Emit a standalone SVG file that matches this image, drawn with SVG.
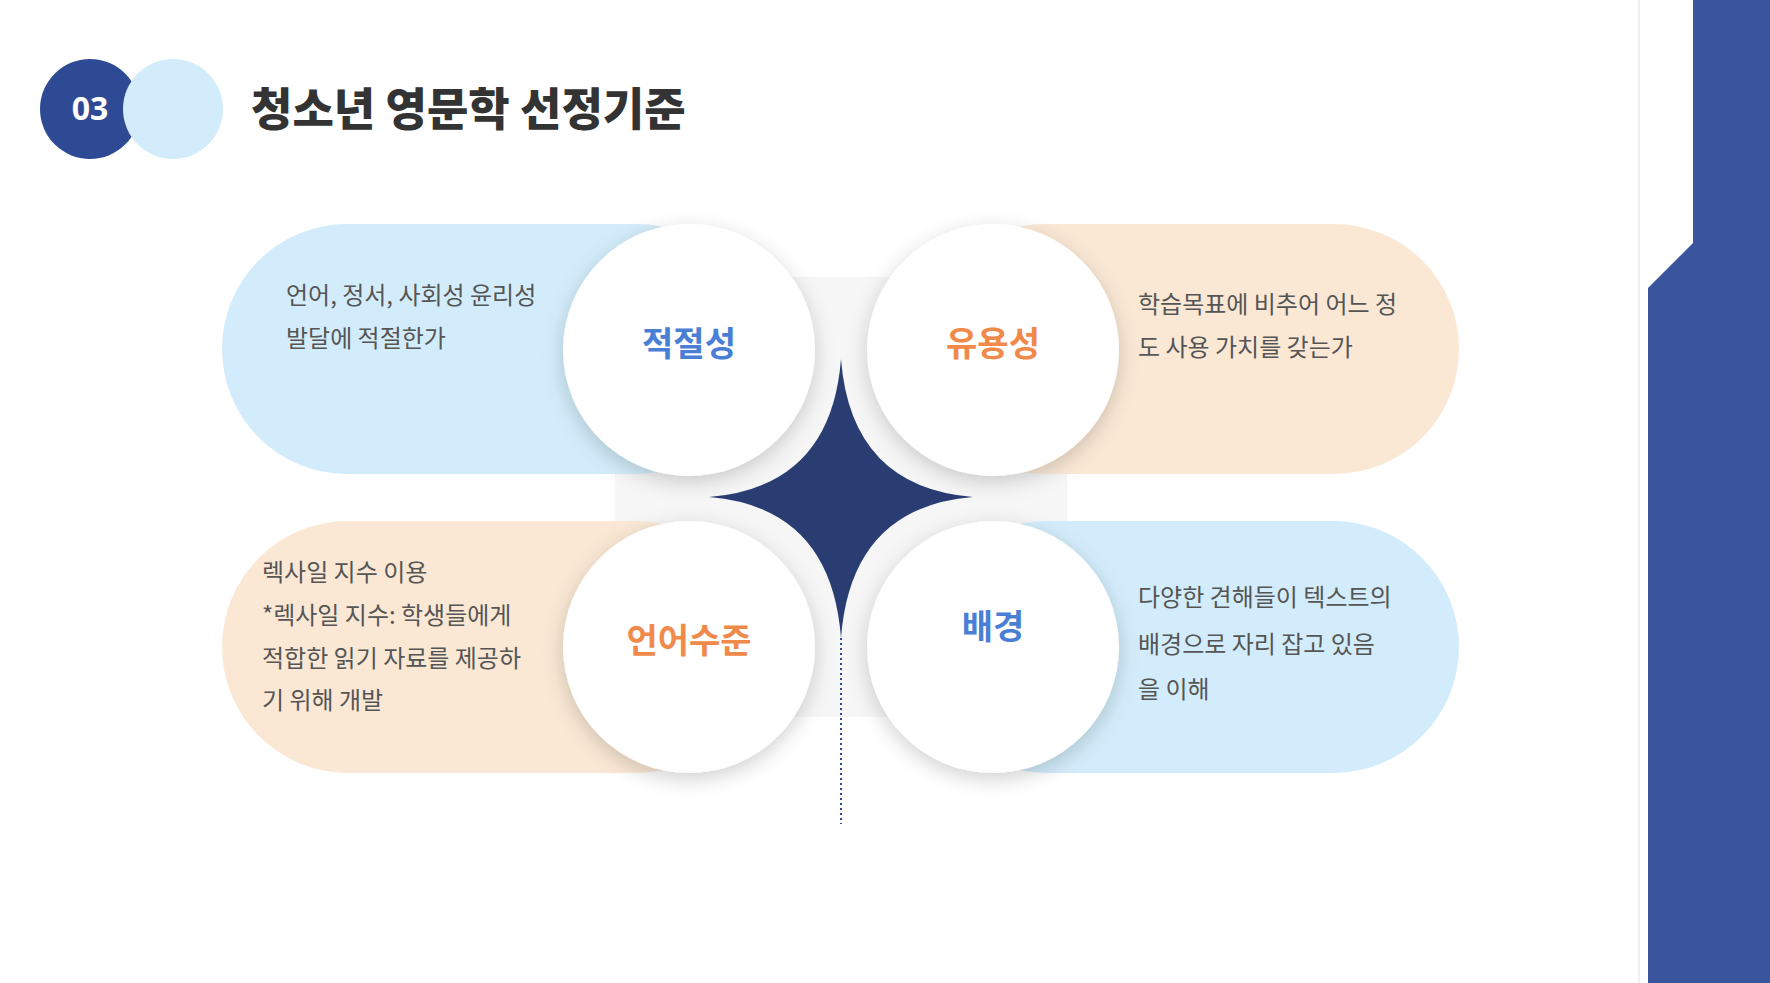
<svg xmlns="http://www.w3.org/2000/svg" width="1770" height="983" viewBox="0 0 1770 983">
<defs>
<filter id="sh" x="-30%" y="-30%" width="160%" height="160%"><feDropShadow dx="0" dy="6" stdDeviation="10" flood-color="#000" flood-opacity="0.18"/></filter>
<style>
.lab{font-family:"Noto Sans CJK KR","Noto Sans",sans-serif;font-weight:700;font-size:34px;text-anchor:middle}
.d{font-family:"Noto Sans CJK KR","Noto Sans",sans-serif;font-size:24px;fill:#555}
.c{fill:#fff;filter:url(#sh)}
</style>
</defs>
<rect width="1770" height="983" fill="#fff"/>
<line x1="1639" y1="0" x2="1639" y2="983" stroke="#f0f0f0" stroke-width="2"/>
<path d="M1693 0H1770V983H1648V288L1693 243Z" fill="#3a559e"/>
<g id="header">
<circle cx="90" cy="109" r="50" fill="#2f4a94"/>
<circle cx="173" cy="109" r="50" fill="#d3ecfb"/>
<text x="90" y="120" font-family="Noto Sans,sans-serif" font-weight="700" font-size="32" fill="#fff" text-anchor="middle">03</text>
<text x="251" y="126" font-family="Noto Sans CJK KR,sans-serif" font-weight="900" font-size="45" fill="#333">청소년 영문학 선정기준</text>
</g>
<rect x="615" y="277" width="452" height="440" fill="#f6f6f6"/>
<g id="connectors">
<line x1="841" y1="638" x2="841" y2="824" stroke="#2f4a94" stroke-width="2" stroke-dasharray="2 3"/>
</g>
<g id="n1"><rect x="222" y="224" width="540" height="250" rx="125" fill="#d3ecfb"/><circle class="c" cx="689" cy="350" r="126"/><text class="lab" x="689" y="356" fill="#4a7fd6">적절성</text>
<text class="d" x="286" y="304">언어, 정서, 사회성 윤리성</text><text class="d" x="286" y="347">발달에 적절한가</text></g>
<g id="n2"><rect x="920" y="224" width="539" height="250" rx="125" fill="#fae8d5"/><circle class="c" cx="993" cy="350" r="126"/><text class="lab" x="993" y="356" fill="#f08a4b">유용성</text>
<text class="d" x="1138" y="313">학습목표에 비추어 어느 정</text><text class="d" x="1138" y="356">도 사용 가치를 갖는가</text></g>
<g id="n3"><rect x="222" y="521" width="540" height="252" rx="126" fill="#fae8d5"/><circle class="c" cx="689" cy="647" r="126"/><text class="lab" x="689" y="653" fill="#f08a4b">언어수준</text>
<text class="d" x="262" y="581">렉사일 지수 이용</text><text class="d" x="262" y="624">*렉사일 지수: 학생들에게</text><text class="d" x="262" y="667">적합한 읽기 자료를 제공하</text><text class="d" x="262" y="709">기 위해 개발</text></g>
<g id="n4"><rect x="920" y="521" width="539" height="252" rx="126" fill="#d3ecfb"/><circle class="c" cx="993" cy="647" r="126"/><text class="lab" x="993" y="639" fill="#4a7fd6">배경</text>
<text class="d" x="1138" y="606">다양한 견해들이 텍스트의</text><text class="d" x="1138" y="653">배경으로 자리 잡고 있음</text><text class="d" x="1138" y="698">을 이해</text></g>
<g id="star"><path d="M841 359Q851 487 973 497Q851 507 841 638Q831 507 709 497Q831 487 841 359Z" fill="#2a3d73"/></g>
</svg>
